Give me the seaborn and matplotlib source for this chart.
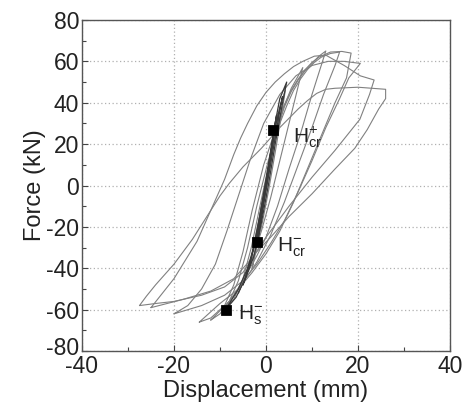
import pandas as pd
import numpy as np
import seaborn as sns
import matplotlib.pyplot as plt
import matplotlib.transforms as mtransforms
from matplotlib.ticker import MultipleLocator

# cicli di isteresi (spostamento mm, forza kN)
# cicli piccoli (nucleo scuro)
core1_x = [-2.2, -1.0, 0.2, 1.2, 2.0, 2.3, 1.7, 0.6, -0.6, -1.6, -2.2]
core1_y = [-30, -14, 4, 18, 30, 34, 26, 10, -8, -22, -30]
core2_x = [-1.8, -0.9, 0.3, 1.4, 1.9, 1.5, 0.4, -0.7, -1.8]
core2_y = [-27, -14, 4, 20, 28, 22, 6, -10, -27]
core3_x = [-5.0, -3.5, -2.2, -1.0, 0.4, 1.8, 3.0, 4.5, 3.6, 2.0, 0.5, -1.0, -2.6, -5.0]
core3_y = [-48, -38, -26, -10, 8, 28, 42, 50, 40, 20, 0, -18, -34, -48]
core4_x = [-8.8, -6.5, -4.5, -3.2, -2.0, -0.6, 0.8, 2.2, 3.6, 3.0, 1.6, 0.2, -1.2, -2.6, -4.0, -6.0, -8.8]
core4_y = [-60, -54, -45, -35, -22, -6, 12, 30, 43, 36, 18, 0, -16, -30, -40, -50, -60]

loop_a_x = [-2.0, -1.2, 0.0, 1.0, 2.0, 2.6, 2.0, 0.8, -0.4, -1.4, -2.0]
loop_a_y = [-27, -15, 2, 16, 28, 35, 26, 8, -8, -20, -27]

loop_b_x = [-3.0, -2.0, -0.8, 0.5, 1.8, 3.0, 4.2, 3.5, 2.0, 0.6, -0.8, -2.0, -3.0]
loop_b_y = [-40, -26, -10, 8, 26, 38, 46, 36, 16, -2, -18, -30, -40]

loop_c_x = [-6.0, -4.5, -3.0, -1.5, 0.0, 1.6, 3.5, 5.5, 8.0, 7.0, 5.0, 3.0, 1.0, -1.0, -3.0, -6.0]
loop_c_y = [-52, -44, -32, -16, 2, 20, 36, 47, 57, 48, 30, 12, -6, -22, -36, -52]

loop_d_x = [-9.0, -7.0, -5.0, -3.2, -1.5, 0.2, 2.0, 4.0, 5.5, 7.0, 8.5, 10.0, 11.5, 13.0, 12.0, 10.0, 7.5, 5.0, 2.5, 0.0, -2.0, -4.5, -7.0, -9.0]
loop_d_y = [-60, -55, -45, -30, -12, 6, 24, 38, 45.5, 51, 55.5, 59, 62.5, 65, 58, 44, 25, 8, -10, -25, -34, -44, -53, -60]

loop_e_x = [-12.0, -10.0, -8.0, -6.0, -4.0, -2.0, 0.5, 3.0, 4.5, 6.0, 7.5, 9.0, 10.5, 12.0, 14.0, 16.0, 15.0, 12.5, 10.0, 7.0, 4.0, 1.0, -2.0, -5.0, -8.0, -12.0]
loop_e_y = [-65, -62, -56, -46, -30, -10, 12, 30, 38.5, 46, 51.5, 56, 59.5, 62, 63.8, 64.5, 58, 44, 28, 10, -8, -24, -37, -47, -56, -65]

loop_f_x = [-14.5, -12.0, -9.0, -7.0, -5.0, -3.0, -0.5, 2.5, 4.0, 5.5, 7.0, 8.5, 10.0, 11.5, 14.0, 16.5, 18.5, 17.5, 15.0, 12.0, 9.0, 6.0, 3.0, 0.0, -3.0, -6.0, -10.0, -14.5]
loop_f_y = [-66, -64, -58, -48, -32, -12, 10, 30, 39, 46, 51.5, 56, 59.5, 62, 64.5, 64.8, 64, 52, 40, 24, 8, -8, -22, -33, -42, -50, -57, -66]

loop_g_x = [-20.0, -17.0, -14.0, -11.0, -8.5, -6.0, -3.5, -0.5, 3.0, 6.5, 10.0, 13.5, 17.0, 20.5, 18.0, 16.0, 13.0, 10.0, 7.0, 4.0, 1.0, -2.0, -5.0, -9.0, -14.0, -20.0]
loop_g_y = [-62, -58, -50, -38, -22, -5, 12, 30, 44, 53, 58, 60, 60, 59, 52, 42, 28, 12, -3, -17, -28, -38, -46, -53, -58, -62]

loop_h_x = [-25.0, -22.5, -20.0, -17.5, -15.0, -12.0, -9.0, -7.0, -5.5, -4.0, -2.0, 0.0, 2.0, 4.0, 6.0, 8.0, 10.5, 13.0, 17.0, 20.5, 23.5, 22.5, 20.4, 15.0, 10.0, 5.0, 0.0, -3.0, -7.0, -12.0, -18.0, -25.0]
loop_h_y = [-59, -52, -45, -36, -27, -12, 3, 15, 23, 30, 38.5, 45, 50, 54, 57.5, 60, 62.5, 63, 58, 53, 51, 44, 32, 17, 4, -10, -25, -35, -45, -51, -55, -59]

loop_i_x = [-27.5, -26.0, -24.0, -22.0, -20.0, -18.0, -16.0, -14.0, -12.0, -10.0, -8.0, -5.0, -1.0, 3.0, 7.0, 9.0, 11.0, 13.0, 15.0, 20.0, 26.0, 26.0, 24.5, 22.0, 19.3, 15.0, 10.0, 5.0, 1.0, -2.0, -5.0, -9.0, -14.0, -20.0, -24.0, -27.5]
loop_i_y = [-58, -53.5, -48, -43, -38, -32, -26, -19, -12, -5, 1, 9, 18, 28, 37, 41, 44.5, 46.5, 47, 47.5, 46.5, 42, 37, 27, 18, 8, -4, -15, -25, -32, -42, -49, -53, -56, -57, -58]

loops = {
    "k1": (core1_x, core1_y), "k2": (core2_x, core2_y), "k3": (core3_x, core3_y), "k4": (core4_x, core4_y),
    "a": (loop_a_x, loop_a_y), "b": (loop_b_x, loop_b_y), "c": (loop_c_x, loop_c_y),
    "d": (loop_d_x, loop_d_y), "e": (loop_e_x, loop_e_y), "f": (loop_f_x, loop_f_y),
    "g": (loop_g_x, loop_g_y), "h": (loop_h_x, loop_h_y), "i": (loop_i_x, loop_i_y),
}

# punti notevoli
point_x = [1.6, -1.9, -8.8]
point_y = [27.0, -27.4, -60.0]
point_labels = [r"$\mathregular{H_{cr}^{+}}$", r"$\mathregular{H_{cr}^{-}}$", r"$\mathregular{H_{s}^{-}}$"]

rows = []
for name, (xs, ys) in loops.items():
    for i, (x, y) in enumerate(zip(xs, ys)):
        rows.append({"ciclo": name, "ordine": i, "disp": x, "force": y})
df = pd.DataFrame(rows)
df_core = df[df["ciclo"].str.startswith("k")]
df_rest = df[~df["ciclo"].str.startswith("k")]

sns.set_style("ticks")
plt.rcParams["font.family"] = ["Liberation Sans", "DejaVu Sans"]
plt.rcParams["axes.unicode_minus"] = False

fig = plt.figure(figsize=(4.63, 4.16), dpi=100)
ax = fig.add_axes([0.177, 0.156, 0.795, 0.796])

sns.lineplot(data=df_rest, x="disp", y="force", units="ciclo", estimator=None, sort=False,
             color="#808080", lw=0.8, ax=ax)
sns.lineplot(data=df_core, x="disp", y="force", units="ciclo", estimator=None, sort=False,
             color="#3a3a3a", lw=0.9, ax=ax)
sns.scatterplot(x=point_x, y=point_y, marker="s", s=50, color="black", edgecolor="black", ax=ax, zorder=5)

offsets = [(4.3, -3.5), (4.3, -2.2), (2.7, -2.5)]
for x, y, lab, (dx, dy) in zip(point_x, point_y, point_labels, offsets):
    ax.text(x + dx, y + dy, lab, fontsize=15, color="#222222", ha="left", va="center")

ax.set_xlim(-40, 40)
ax.set_ylim(-80, 80)
ax.set_xticks([-40, -20, 0, 20, 40])
ax.set_yticks([-80, -60, -40, -20, 0, 20, 40, 60, 80])
ax.xaxis.set_minor_locator(MultipleLocator(10))
ax.yaxis.set_minor_locator(MultipleLocator(10))
ax.tick_params(which="both", direction="in", top=False, right=False, color="#444444", width=0.8)
ax.tick_params(which="major", length=4, labelsize=16.5, labelcolor="#222222")
ax.tick_params(axis="x", which="major", pad=3)
ax.tick_params(axis="y", which="major", pad=2)
ax.tick_params(which="minor", length=3)
ax.grid(True, which="major", linestyle=(0, (1, 2)), color="#b0b0b0", lw=0.9)
for s in ax.spines.values():
    s.set_color("#555555")
    s.set_linewidth(1.0)

# sposta leggermente in alto l'etichetta -80 per non toccare -40
lab80 = ax.yaxis.get_major_ticks()[0].label1
lab80.set_transform(lab80.get_transform() + mtransforms.ScaledTranslation(0, 0.05, fig.dpi_scale_trans))

ax.set_xlabel("Displacement (mm)", fontsize=17, color="#222222", labelpad=1)
ax.set_ylabel("Force (kN)", fontsize=17, color="#222222", labelpad=0)

plt.savefig("out.png", dpi=100)
